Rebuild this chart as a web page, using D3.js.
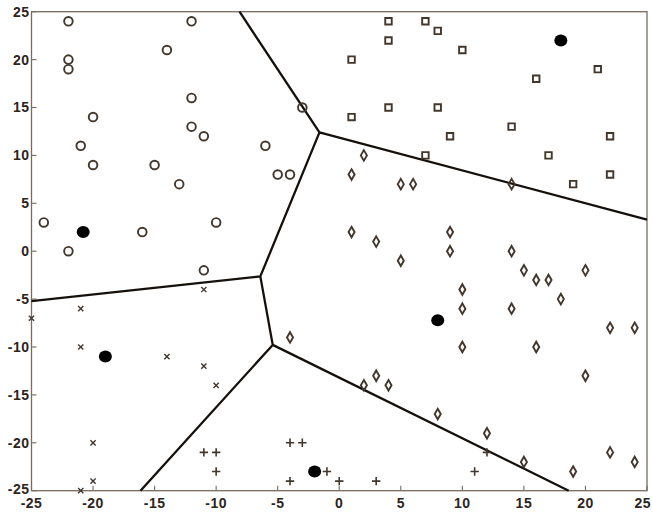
<!DOCTYPE html>
<html><head><meta charset="utf-8">
<script src="https://cdn.jsdelivr.net/npm/d3@7"></script>
<style>html,body{margin:0;padding:0;background:#fff;}svg{display:block;}</style>
</head><body>
<script>
// ---- data ----
const xTicks = [-25,-20,-15,-10,-5,0,5,10,15,20,25];
const yTicks = [-25,-20,-15,-10,-5,0,5,10,15,20,25];

const circles = [[-22,24],[-12,24],[-22,20],[-22,19],[-14,21],[-12,16],[-12,13],[-11,12],[-20,14],[-21,11],[-20,9],[-15,9],[-13,7],[-24,3],[-16,2],[-10,3],[-22,0],[-6,11],[-5,8],[-4,8],[-3,15],[-11,-2]];
const squares = [[4,24],[7,24],[4,22],[1,20],[4,15],[1,14],[7,10],[8,23],[10,21],[8,15],[9,12],[14,13],[16,18],[21,19],[22,12],[17,10],[22,8],[19,7]];
const diamonds = [[2,10],[1,8],[5,7],[6,7],[1,2],[3,1],[14,7],[9,2],[5,-1],[-4,-9],[3,-13],[2,-14],[4,-14],[9,0],[14,0],[15,-2],[20,-2],[16,-3],[17,-3],[10,-4],[18,-5],[10,-6],[14,-6],[22,-8],[24,-8],[10,-10],[16,-10],[20,-13],[8,-17],[12,-19],[15,-22],[19,-23],[22,-21],[24,-22]];
const xmarks = [[-11,-4],[-21,-6],[-25,-7],[-21,-10],[-14,-11],[-11,-12],[-10,-14],[-20,-20],[-20,-24],[-21,-25]];
const pluses = [[-11,-21],[-10,-21],[-10,-23],[-4,-20],[-3,-20],[-4,-24],[-1,-23],[0,-24],[3,-24],[11,-23],[12,-21]];
const centroids = [[-20.8,2],[18,22],[8,-7.2],[-19,-11],[-2,-23]];

// ---- layout ----
const W = 652, H = 514;
const x = d3.scaleLinear().domain([-25,25]).range([31.5,647]);
const y = d3.scaleLinear().domain([-25,25]).range([490.7,11.7]);

const svg = d3.select("body").append("svg").attr("width",W).attr("height",H);

const ink = "#43362b";
const frameCol = "#7a6a5c";
const textCol = "#2e241c";

// frame
svg.append("rect").attr("x",x(-25)).attr("y",y(25))
  .attr("width",x(25)-x(-25)).attr("height",y(-25)-y(25))
  .attr("fill","none").attr("stroke",frameCol).attr("stroke-width",1.3);

// ticks (inward)
const tickG = svg.append("g").attr("stroke",frameCol).attr("stroke-width",1.1);
xTicks.forEach(t=>{
  tickG.append("line").attr("x1",x(t)).attr("x2",x(t)).attr("y1",y(-25)).attr("y2",y(-25)-5);
});
yTicks.forEach(t=>{
  tickG.append("line").attr("x1",x(-25)).attr("x2",x(-25)+5).attr("y1",y(t)).attr("y2",y(t));
});

// tick labels
const lab = svg.append("g").attr("font-family","'Liberation Sans', Arial, sans-serif")
  .attr("font-size",14).attr("font-weight","bold").attr("fill",textCol);
xTicks.forEach((t,i)=>{
  const last = i === xTicks.length-1;
  lab.append("text").attr("x",last ? 651 : x(t)).attr("y",508)
    .attr("text-anchor",last ? "end" : "middle")
    .attr("letter-spacing",0.5).text(String(t));
});
yTicks.forEach(t=>{
  lab.append("text").attr("x",x(-25)-2).attr("y",t===-25 ? y(t)-2 : y(t)).attr("dy","0.35em")
    .attr("text-anchor","end").attr("letter-spacing",0.5).text(String(t));
});

// voronoi boundaries computed in data space, drawn through the scales
const delaunay = d3.Delaunay.from(centroids);
const vor = delaunay.voronoi([-25,-25,25,25]);
const p = d3.path();
const ctx = {
  moveTo:(a,b)=>p.moveTo(x(a),y(b)),
  lineTo:(a,b)=>p.lineTo(x(a),y(b)),
  closePath:()=>p.closePath()
};
vor.render(ctx);
svg.append("path").attr("d",p.toString()).attr("fill","none")
  .attr("stroke","#15100c").attr("stroke-width",2.3).attr("stroke-linejoin","round");

// markers
const mg = svg.append("g").attr("fill","none").attr("stroke",ink).attr("stroke-width",1.9);
mg.selectAll(".c").data(circles).join("circle")
  .attr("cx",d=>x(d[0])).attr("cy",d=>y(d[1])).attr("r",4.3);
mg.selectAll(".s").data(squares).join("path")
  .attr("transform",d=>`translate(${x(d[0])},${y(d[1])})`)
  .attr("d",d3.symbol(d3.symbolSquare,42)());
mg.selectAll(".d").data(diamonds).join("path")
  .attr("transform",d=>`translate(${x(d[0])},${y(d[1])})`)
  .attr("d",d3.symbol(d3.symbolDiamond,32)());
const xs = 2.6;
mg.selectAll(".x").data(xmarks).join("path")
  .attr("stroke-width",1.4)
  .attr("transform",d=>`translate(${x(d[0])},${y(d[1])})`)
  .attr("d",`M${-xs},${-xs}L${xs},${xs}M${-xs},${xs}L${xs},${-xs}`);
const ps = 4.2;
mg.selectAll(".p").data(pluses).join("path")
  .attr("stroke-width",1.6)
  .attr("transform",d=>`translate(${x(d[0])},${y(d[1])})`)
  .attr("d",`M${-ps},0L${ps},0M0,${-ps}L0,${ps}`);

// centroids
svg.append("g").selectAll("ellipse").data(centroids).join("ellipse")
  .attr("cx",d=>x(d[0])).attr("cy",d=>y(d[1])).attr("rx",6.5).attr("ry",6).attr("fill","#000");
</script>
</body></html>
